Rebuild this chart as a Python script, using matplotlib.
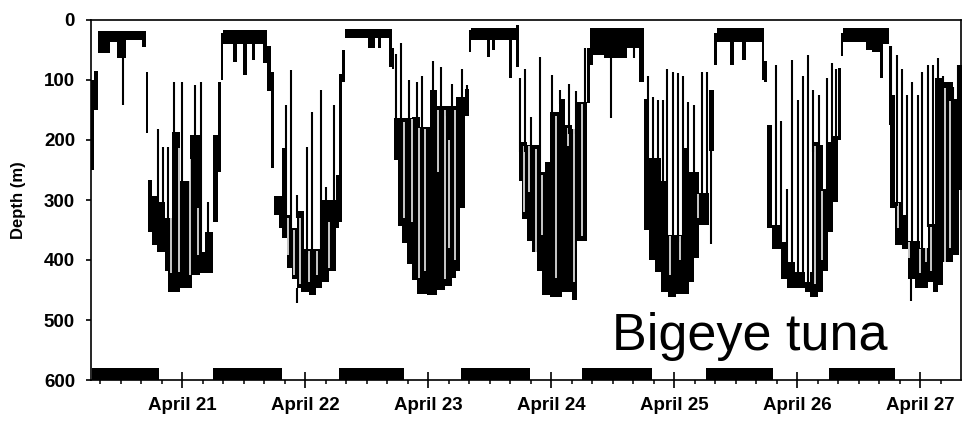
"""Bigeye tuna depth record, April 20-27: daytime deep foraging, nights near the surface."""
import matplotlib
matplotlib.use("Agg")
import matplotlib.pyplot as plt
from matplotlib.ticker import FixedLocator, MultipleLocator

# time axis in days of April (21.0 = April 21, 00:00)
# dense part of the record: shallowest / deepest depth held from each knot to the next
knot_day = [
    20.260, 20.285, 20.317, 20.415, 20.472, 20.545, 20.675, 20.707, 20.724, 20.756,
    20.797, 20.862, 20.886, 20.919, 20.984, 21.065, 21.081, 21.146, 21.187, 21.252,
    21.293, 21.317, 21.333, 21.415, 21.447, 21.496, 21.528, 21.569, 21.593, 21.659,
    21.691, 21.724, 21.748, 21.789, 21.813, 21.854, 21.894, 21.935, 21.967, 21.992,
    22.033, 22.089, 22.138, 22.195, 22.252, 22.276, 22.301, 22.325, 22.512, 22.569,
    22.593, 22.618, 22.683, 22.707, 22.724, 22.756, 22.789, 22.829, 22.870, 22.911,
    22.935, 22.992, 23.016, 23.073, 23.138, 23.195, 23.228, 23.260, 23.301, 23.333,
    23.350, 23.480, 23.504, 23.520, 23.545, 23.659, 23.683, 23.715, 23.740, 23.764,
    23.805, 23.846, 23.886, 23.911, 23.927, 23.951, 23.992, 24.065, 24.089, 24.114,
    24.171, 24.211, 24.293, 24.317, 24.341, 24.431, 24.618, 24.715, 24.756, 24.797,
    24.846, 24.894, 24.951, 25.016, 25.081, 25.122, 25.163, 25.203, 25.285, 25.325,
    25.350, 25.455, 25.488, 25.553, 25.585, 25.715, 25.732, 25.756, 25.797, 25.870,
    25.919, 25.984, 26.065, 26.106, 26.122, 26.171, 26.211, 26.252, 26.293, 26.333,
    26.358, 26.374, 26.561, 26.610, 26.675, 26.699, 26.748, 26.756, 26.797, 26.854,
    26.902, 26.959, 27.000, 27.065, 27.106, 27.122, 27.146, 27.187, 27.268, 27.317,
    27.340,
]
mass_top = [
    100, 85, 18, 18, 18, 18, 18, 86, 267, 294,
    303, 330, 330, 186, 269, 192, 192, 386, 353, 192,
    103, 22, 17, 17, 17, 17, 17, 17, 17, 17,
    44, 86, 294, 294, 214, 325, 347, 319, 319, 381,
    381, 381, 300, 300, 258, 90, 50, 15, 15, 15,
    15, 15, 15, 47, 164, 164, 164, 164, 161, 161,
    178, 178, 117, 144, 144, 144, 128, 128, 115, 17,
    14, 14, 14, 14, 14, 14, 14, 8, 203, 203,
    208, 208, 208, 253, 253, 236, 153, 131, 131, 175,
    181, 136, 47, 14, 14, 14, 14, 14, 131, 230,
    230, 269, 358, 358, 214, 253, 253, 289, 117, 22,
    14, 14, 14, 14, 14, 14, 69, 175, 342, 370,
    403, 420, 436, 420, 203, 208, 281, 203, 193, 80,
    22, 14, 14, 14, 14, 14, 44, 125, 303, 325,
    369, 369, 380, 340, 340, 97, 97, 103, 131, 75,
    75,
]
mass_bottom = [
    250, 150, 55, 36, 64, 33, 45, 189, 353, 375,
    386, 419, 453, 453, 447, 447, 425, 422, 422, 336,
    253, 100, 40, 70, 40, 92, 40, 67, 40, 72,
    119, 247, 325, 347, 364, 414, 431, 447, 453, 453,
    458, 447, 436, 419, 347, 336, 103, 30, 47, 30,
    47, 30, 78, 81, 233, 344, 372, 406, 433, 456,
    456, 458, 458, 450, 444, 430, 419, 314, 160, 53,
    33, 61, 33, 50, 33, 97, 33, 78, 269, 331,
    369, 386, 419, 419, 458, 458, 461, 461, 453, 453,
    467, 369, 139, 75, 58, 64, 47, 103, 350, 400,
    420, 453, 461, 456, 456, 436, 397, 342, 219, 75,
    36, 75, 36, 67, 36, 100, 103, 347, 381, 431,
    447, 447, 453, 461, 461, 453, 419, 353, 303, 200,
    60, 36, 50, 53, 97, 40, 175, 314, 375, 381,
    431, 447, 447, 436, 453, 453, 442, 403, 392, 283,
    283,
]

# single vertical excursions (ascents by day, short dives by night)
stroke_day = [
    20.520, 20.805, 20.846, 20.886, 20.935, 21.000, 21.041, 21.106, 21.154, 21.211,
    21.846, 21.886, 21.935, 21.935, 22.016, 22.057, 22.130, 22.171, 22.236,
    22.740, 22.780, 22.846, 22.911, 22.951, 23.041, 23.106, 23.154, 23.195, 23.276, 23.317,
    23.748, 23.789, 23.837, 23.911, 24.008, 24.073, 24.146, 24.203, 24.276,
    24.488, 24.675,
    24.789, 24.829, 24.870, 24.911, 24.943, 24.992, 25.033, 25.073, 25.114, 25.163,
    25.228, 25.268, 25.301,
    25.829, 25.870, 25.919, 25.959, 26.008, 26.049, 26.089, 26.130, 26.179, 26.244,
    26.285, 26.317,
    26.764, 26.813, 26.854, 26.894, 26.927, 26.935, 26.984, 27.016, 27.065, 27.106,
    27.146, 27.187, 27.228, 27.268, 27.309,
]
stroke_top = [
    18, 181, 211, 211, 103, 103, 269, 108, 103, 303,
    142, 83, 292, 447, 211, 153, 117, 278, 142,
    56, 39, 100, 103, 94, 69, 78, 144, 106, 81, 108,
    97, 81, 161, 61, 92, 117, 106, 119, 47,
    14, 14,
    94, 128, 133, 133, 81, 86, 89, 94, 136, 142,
    86, 86, 117,
    75, 169, 281, 67, 133, 94, 58, 117, 125, 97,
    72, 81,
    44, 58, 81, 125, 431, 103, 125, 86, 75, 75,
    64, 94, 103, 111, 75,
]
stroke_bottom = [
    142, 330, 330, 340, 260, 280, 300, 200, 390, 360,
    330, 350, 330, 472, 390, 390, 390, 310, 310,
    180, 180, 180, 180, 190, 150, 160, 160, 160, 140, 140,
    220, 220, 220, 260, 170, 140, 190, 190, 150,
    164, 64,
    240, 240, 240, 280, 370, 370, 370, 370, 260, 260,
    300, 300, 373,
    350, 380, 410, 410, 430, 440, 440, 220, 220, 290,
    210, 200,
    130, 310, 330, 370, 469, 370, 380, 380, 345, 345,
    100, 110, 110, 135, 135,
]

# narrow breaks inside the dense daytime band
gap_day = [
    20.911, 20.976, 21.065, 21.130,
    21.862, 21.911, 21.959, 22.033, 22.098, 22.195,
    22.805, 22.870, 22.927, 22.976, 23.081, 23.138, 23.171, 23.220,
    23.780, 23.821, 23.878, 23.927, 24.041, 24.138, 24.187, 24.252,
    24.967, 25.049, 25.195,
    26.146, 26.203,
    26.821, 26.911, 27.000, 27.049, 27.089, 27.203, 27.244,
]
gap_top = [
    330, 214, 231, 314,
    330, 350, 330, 385, 385, 336,
    170, 165, 180, 181, 150, 150, 200, 150,
    210, 210, 215, 258, 160, 180, 181, 140,
    360, 360, 290,
    210, 285,
    305, 370, 382, 345, 345, 114, 135,
]
gap_bottom = [
    422, 420, 425, 392,
    392, 425, 440, 436, 425, 414,
    330, 336, 430, 419, 253, 431, 380, 400,
    320, 286, 400, 358, 430, 210, 436, 360,
    425, 400, 330,
    440, 400,
    347, 397, 422, 403, 419, 403, 380,
]

# dark periods, drawn as bars along the bottom axis
night_start = [20.268, 21.252, 22.276, 23.272, 24.252, 25.260, 26.260]
night_end = [20.813, 21.813, 22.805, 23.829, 24.821, 25.805, 26.797]

day_ticks = [21, 22, 23, 24, 25, 26, 27]
day_labels = ["April 21", "April 22", "April 23", "April 24",
              "April 25", "April 26", "April 27"]
depth_ticks = [0, 100, 200, 300, 400, 500, 600]

LABEL_FONT = dict(family=["Liberation Sans", "DejaVu Sans"], weight="bold")

fig = plt.figure(figsize=(9.63, 4.26), dpi=100)
ax = fig.add_axes([91 / 963, 46 / 426, 870 / 963, 360 / 426])

ax.fill_between(knot_day, mass_top, mass_bottom, step="post",
                color="black", linewidth=0)
ax.vlines(gap_day, gap_top, gap_bottom, colors="white", linewidth=1.1)
ax.vlines(stroke_day, stroke_top, stroke_bottom, colors="black", linewidth=1.5)

widths = [e - s for s, e in zip(night_start, night_end)]
ax.bar(night_start, 20, width=widths, bottom=580, align="edge",
       color="black", linewidth=0)

ax.text(24.496, 550, "Bigeye tuna", fontsize=37.5, va="baseline", ha="left",
        family=["Liberation Sans", "DejaVu Sans"])

ax.set_xlim(20.260, 27.333)
ax.set_ylim(600, 0)

ax.xaxis.set_major_locator(FixedLocator(day_ticks))
ax.xaxis.set_minor_locator(MultipleLocator(1 / 6))
ax.set_xticklabels(day_labels)
ax.set_yticks(depth_ticks)
ax.set_yticklabels([str(d) for d in depth_ticks])

ax.tick_params(axis="x", which="major", direction="inout", length=11,
               width=1.2, pad=7)
ax.tick_params(axis="x", which="minor", direction="out", length=3, width=1.1)
ax.tick_params(axis="y", which="major", direction="out", length=3.5,
               width=1.2, pad=8)
for lab in ax.get_xticklabels() + ax.get_yticklabels():
    lab.set_fontsize(13.5)
    lab.set_fontfamily(LABEL_FONT["family"])
    lab.set_fontweight("bold")

ax.set_ylabel("Depth (m)", fontsize=12, **LABEL_FONT)
ax.yaxis.set_label_coords(-0.075, 0.5)

for sp in ax.spines.values():
    sp.set_linewidth(1.2)

fig.savefig("out.png", dpi=100)
